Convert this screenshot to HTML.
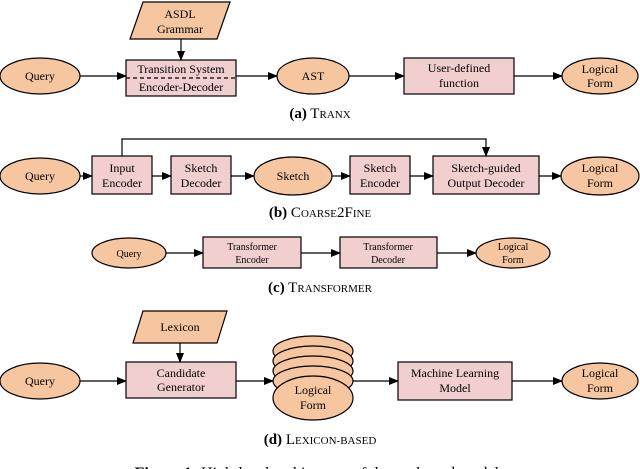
<!DOCTYPE html>
<html><head><style>
body{margin:0;background:#fff;}
svg{display:block;font-family:"Liberation Serif",serif;}
</style></head><body>
<svg width="640" height="469" viewBox="0 0 640 469">
<defs><marker id="ar" markerWidth="10" markerHeight="8" refX="9" refY="4" orient="auto" markerUnits="userSpaceOnUse"><path d="M0,0 L10,4 L0,8z" fill="#000"/></marker></defs>
<g stroke="#000" stroke-width="1.2">
<!-- row a -->
<polygon points="143,2 230,2 217,39 130,39" fill="#f6c6a0"/>
<ellipse cx="40" cy="76" rx="40" ry="18" fill="#f6c6a0"/>
<rect x="126" y="60" width="110" height="36" fill="#f2cfcf"/>
<line x1="126" y1="78" x2="236" y2="78" stroke-dasharray="4,3"/>
<ellipse cx="313" cy="76" rx="36" ry="18" fill="#f6c6a0"/>
<rect x="404" y="58" width="110" height="36" fill="#f2cfcf"/>
<ellipse cx="600" cy="76" rx="38" ry="18" fill="#f6c6a0"/>
<line x1="181" y1="39" x2="181" y2="60" marker-end="url(#ar)"/>
<line x1="80" y1="76" x2="126" y2="76" marker-end="url(#ar)"/>
<line x1="236" y1="76" x2="277" y2="76" marker-end="url(#ar)"/>
<line x1="349" y1="76" x2="404" y2="76" marker-end="url(#ar)"/>
<line x1="514" y1="76" x2="562" y2="76" marker-end="url(#ar)"/>
<!-- row b -->
<ellipse cx="40" cy="176" rx="40" ry="18" fill="#f6c6a0"/>
<rect x="92" y="156" width="60" height="38" fill="#f2cfcf"/>
<rect x="171" y="156" width="60" height="38" fill="#f2cfcf"/>
<ellipse cx="293" cy="176" rx="39" ry="19" fill="#f6c6a0"/>
<rect x="350" y="156" width="60" height="38" fill="#f2cfcf"/>
<rect x="433" y="156" width="106" height="38" fill="#f2cfcf"/>
<ellipse cx="600" cy="176" rx="39" ry="19" fill="#f6c6a0"/>
<polyline points="122,156 122,139 486,139 486,156" fill="none" marker-end="url(#ar)"/>
<line x1="80" y1="176" x2="92" y2="176" marker-end="url(#ar)"/>
<line x1="152" y1="176" x2="171" y2="176" marker-end="url(#ar)"/>
<line x1="231" y1="176" x2="254" y2="176" marker-end="url(#ar)"/>
<line x1="332" y1="176" x2="350" y2="176" marker-end="url(#ar)"/>
<line x1="410" y1="176" x2="433" y2="176" marker-end="url(#ar)"/>
<line x1="539" y1="176" x2="561" y2="176" marker-end="url(#ar)"/>
<!-- row c -->
<ellipse cx="129" cy="253" rx="37" ry="15" fill="#f6c6a0"/>
<rect x="203" y="237" width="98" height="31" fill="#f2cfcf"/>
<rect x="340" y="237" width="97" height="31" fill="#f2cfcf"/>
<ellipse cx="513" cy="253" rx="37" ry="15" fill="#f6c6a0"/>
<line x1="166" y1="253" x2="203" y2="253" marker-end="url(#ar)"/>
<line x1="301" y1="253" x2="340" y2="253" marker-end="url(#ar)"/>
<line x1="437" y1="253" x2="476" y2="253" marker-end="url(#ar)"/>
<!-- row d -->
<polygon points="143,311 227,311 217,343 133,343" fill="#f6c6a0"/>
<ellipse cx="40" cy="381" rx="40" ry="18" fill="#f6c6a0"/>
<rect x="126" y="362" width="110" height="36" fill="#f2cfcf"/>
<ellipse cx="313" cy="351" rx="40" ry="15" fill="#f6c6a0"/>
<ellipse cx="313" cy="361" rx="40" ry="15" fill="#f6c6a0"/>
<ellipse cx="313" cy="371" rx="40" ry="15" fill="#f6c6a0"/>
<ellipse cx="313" cy="381" rx="40" ry="15" fill="#f6c6a0"/>
<ellipse cx="313" cy="398" rx="40" ry="22" fill="#f6c6a0"/>
<rect x="398" y="362" width="114" height="38" fill="#f2cfcf"/>
<ellipse cx="600" cy="381" rx="38" ry="18" fill="#f6c6a0"/>
<line x1="180" y1="343" x2="180" y2="362" marker-end="url(#ar)"/>
<line x1="80" y1="381" x2="126" y2="381" marker-end="url(#ar)"/>
<line x1="236" y1="381" x2="273" y2="381" marker-end="url(#ar)"/>
<line x1="353" y1="381" x2="398" y2="381" marker-end="url(#ar)"/>
<line x1="512" y1="381" x2="562" y2="381" marker-end="url(#ar)"/>
</g>
<g font-size="12" text-anchor="middle" fill="#000">
<text x="180" y="18">ASDL</text><text x="180" y="33">Grammar</text>
<text x="40" y="80">Query</text>
<text x="181" y="73">Transition System</text><text x="181" y="91">Encoder-Decoder</text>
<text x="313" y="80">AST</text>
<text x="459" y="72">User-defined</text><text x="459" y="87">function</text>
<text x="600" y="73">Logical</text><text x="600" y="87">Form</text>
<text x="40" y="180">Query</text>
<text x="122" y="172">Input</text><text x="122" y="187">Encoder</text>
<text x="201" y="172">Sketch</text><text x="201" y="187">Decoder</text>
<text x="293" y="180">Sketch</text>
<text x="380" y="172">Sketch</text><text x="380" y="187">Encoder</text>
<text x="486" y="172">Sketch-guided</text><text x="486" y="187">Output Decoder</text>
<text x="600" y="172">Logical</text><text x="600" y="187">Form</text>
<text x="381" y="396" font-size="11"></text>
<text x="313" y="394">Logical</text><text x="313" y="409">Form</text>
<text x="180" y="331">Lexicon</text>
<text x="40" y="385">Query</text>
<text x="181" y="377">Candidate</text><text x="181" y="391">Generator</text>
<text x="455" y="377">Machine Learning</text><text x="455" y="392">Model</text>
<text x="600" y="377">Logical</text><text x="600" y="392">Form</text>
</g>
<g font-size="10" text-anchor="middle">
<text x="129" y="257">Query</text>
<text x="252" y="250">Transformer</text><text x="252" y="263">Encoder</text>
<text x="388" y="250">Transformer</text><text x="388" y="263">Decoder</text>
<text x="513" y="250">Logical</text><text x="513" y="263">Form</text>
</g>
<g font-size="15" text-anchor="middle">
<text x="320" y="118"><tspan font-weight="bold">(a)</tspan> T<tspan font-size="11">RANX</tspan></text>
<text x="320" y="217"><tspan font-weight="bold">(b)</tspan> C<tspan font-size="11">OARSE</tspan>2F<tspan font-size="11">INE</tspan></text>
<text x="320" y="292"><tspan font-weight="bold">(c)</tspan> T<tspan font-size="11">RANSFORMER</tspan></text>
<text x="320" y="444"><tspan font-weight="bold">(d)</tspan> L<tspan font-size="11">EXICON-BASED</tspan></text>
<text x="320" y="478" font-size="16"><tspan font-weight="bold">Figure 1:</tspan> High-level architecture of the evaluated models</text>
</g>
</svg>
</body></html>
